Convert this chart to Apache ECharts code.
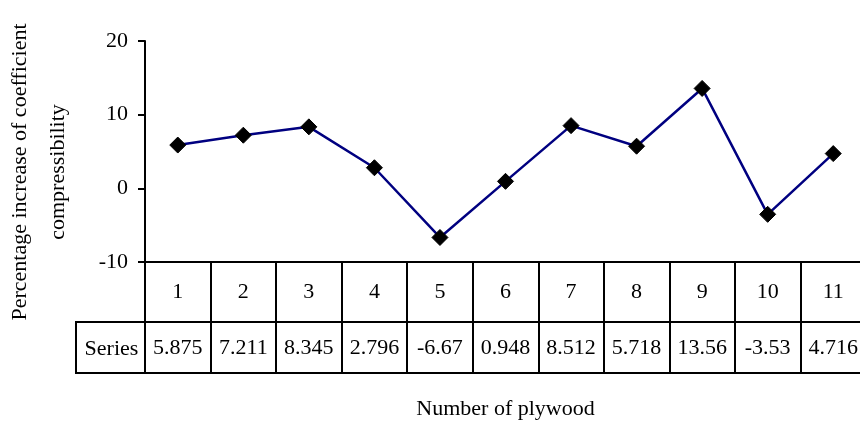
<!DOCTYPE html>
<html><head><meta charset="utf-8">
<script src="https://cdn.jsdelivr.net/npm/echarts@6/dist/echarts.min.js"></script>
<style>html,body{margin:0;padding:0;background:#fff}#c{width:860px;height:422px}</style>
</head><body><div id="c"></div>
<script>
var categories = ['1','2','3','4','5','6','7','8','9','10','11'];
var seriesValues = [5.875, 7.211, 8.345, 2.796, -6.67, 0.948, 8.512, 5.718, 13.56, -3.53, 4.716];
var yTicks = [-10, 0, 10, 20];
var seriesName = 'Series';
var xTitle = 'Number of plywood';
var yTitle = 'Percentage increase of coefficient\ncompressibility';

var FONT = 'Liberation Serif';
var FS = 22;
var GL = 145, GT = 41, GW = 721, GH = 221;
var ROW1 = 60, ROW2 = 51;

var chart = echarts.init(document.getElementById('c'), null, {renderer: 'canvas'});
chart.setOption({
  animation: false,
  backgroundColor: '#fff',
  grid: {left: GL, top: GT, width: GW, height: GH, containLabel: false, outerBoundsMode: 'none'},
  xAxis: [
    {
      type: 'category', data: categories, position: 'bottom', boundaryGap: true,
      axisLine: {show: true, onZero: false, lineStyle: {color: '#000', width: 2}},
      axisTick: {show: true, interval: 0, alignWithLabel: false, length: ROW1 + ROW2, lineStyle: {color: '#000', width: 2}},
      axisLabel: {show: true, interval: 0, margin: 30, verticalAlign: 'middle', color: '#000', fontFamily: FONT, fontSize: FS},
      splitLine: {show: false}
    },
    {
      type: 'category', data: seriesValues.map(String), position: 'bottom', offset: ROW1, boundaryGap: true,
      axisLine: {show: true, onZero: false, lineStyle: {color: '#000', width: 2}},
      axisTick: {show: false},
      axisLabel: {show: true, interval: 0, margin: 26, verticalAlign: 'middle', color: '#000', fontFamily: FONT, fontSize: FS},
      splitLine: {show: false}
    },
    {
      type: 'category', data: categories, position: 'bottom', offset: ROW1 + ROW2, boundaryGap: true,
      axisLine: {show: true, onZero: false, lineStyle: {color: '#000', width: 2}},
      axisTick: {show: false}, axisLabel: {show: false}, splitLine: {show: false},
      name: xTitle, nameLocation: 'middle', nameGap: 25,
      nameTextStyle: {color: '#000', fontFamily: FONT, fontSize: FS}
    }
  ],
  yAxis: {
    type: 'value', min: yTicks[0], max: yTicks[yTicks.length - 1], interval: 10,
    axisLine: {show: true, onZero: false, lineStyle: {color: '#000', width: 2}},
    axisTick: {show: true, length: 7, lineStyle: {color: '#000', width: 2}},
    axisLabel: {margin: 17, color: '#000', fontFamily: FONT, fontSize: FS},
    splitLine: {show: false}
  },
  graphic: [
    {type: 'rect', shape: {x: 76, y: GT + GH + ROW1, width: GL - 76, height: ROW2},
     style: {fill: 'none', stroke: '#000', lineWidth: 2}, z: 100},
    {type: 'text', x: (76 + GL) / 2 + 1, y: GT + GH + ROW1 + ROW2 / 2 + 2,
     style: {text: seriesName, fill: '#000', font: FS + 'px "' + FONT + '"', textAlign: 'center', textVerticalAlign: 'middle'}, z: 100},
    {type: 'text', x: 39, y: 172, rotation: Math.PI / 2,
     style: {text: yTitle, fill: '#000', font: FS + 'px "' + FONT + '"', textAlign: 'center', textVerticalAlign: 'middle', lineHeight: 38}, z: 100}
  ],
  series: [{
    type: 'line', name: seriesName, xAxisIndex: 0, yAxisIndex: 0, data: seriesValues,
    symbol: 'diamond', symbolSize: 16, showAllSymbol: true,
    lineStyle: {color: '#000080', width: 2.5},
    itemStyle: {color: '#000', borderColor: '#000'},
    label: {show: false}, z: 5
  }]
});
</script></body></html>
